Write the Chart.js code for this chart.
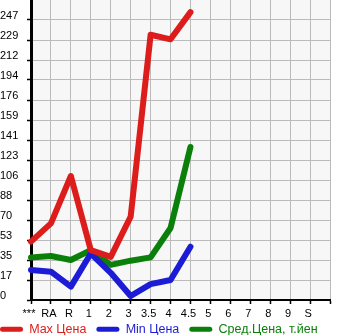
<!DOCTYPE html>
<html>
<head>
<meta charset="utf-8">
<script src="https://cdn.jsdelivr.net/npm/chart.js@4"></script>
<style>
  html, body { margin: 0; padding: 0; background: #fff; }
  #wrap { width: 345px; height: 335px; }
</style>
</head>
<body>
<div id="wrap"><canvas id="priceChart" width="345" height="335"></canvas></div>
<script>
// categories (last one is empty, it only closes the grid)
const categories = ['***', 'RA', 'R', '1', '2', '3', '3,5', '4', '4,5', '5', '6', '7', '8', '9', 'S', ''];
const maxPrice = [51.5, 67.6, 109.4, 44, 38, 73.5, 234, 230, 254];
const minPrice = [26.5, 25, 11.8, 41, 24, 3.5, 14, 17.6, 47];
const avgPrice = [37.6, 38.8, 35.3, 44, 31, 34.7, 37.6, 63.5, 135];
const yTickLabels = ['0', '17', '35', '53', '70', '88', '106', '123', '141', '159', '176', '194', '212', '229', '247'];
const yStep = 17.647;
const seriesNames = ['Max Цена', 'Min Цена', 'Сред.Цена, т.йен'];
const seriesColors = ['rgb(221,28,28)', 'rgb(28,28,214)', 'rgb(10,128,10)'];

// серый фон области графика
const plotBackground = {
    id: 'plotBackground',
    beforeDraw(chart) {
        const a = chart.chartArea;
        const ctx = chart.ctx;
        ctx.save();
        ctx.fillStyle = '#f7f7f7';
        ctx.fillRect(a.left, a.top, a.right - a.left, a.bottom - a.top);
        ctx.restore();
    }
};

// сдвиг легенды к левому краю
const legendShift = {
    id: 'legendShift',
    afterLayout(chart) {
        const lg = chart.legend;
        lg.left -= 10; lg.right -= 10;
        lg.top -= 4; lg.bottom -= 4;
    }
};

const tickFont = { family: 'Liberation Sans', size: 11 };

const ctx = document.getElementById('priceChart').getContext('2d');
const chart = new Chart(ctx, {
    type: 'line',
    data: {
        labels: categories,
        datasets: [maxPrice, minPrice, avgPrice].map(function(values, i) {
            return {
                label: seriesNames[i],
                data: values,
                borderColor: seriesColors[i],
                backgroundColor: seriesColors[i],
                borderWidth: 6,
                borderCapStyle: 'round',
                borderJoinStyle: 'round',
                pointRadius: 0,
                tension: 0,
                fill: false
            };
        })
    },
    options: {
        responsive: false,
        animation: false,
        layout: { padding: { top: 0, right: 0, left: 0, bottom: -14.5 } },
        plugins: {
            tooltip: { enabled: false },
            legend: {
                position: 'bottom',
                align: 'start',
                labels: {
                    boxWidth: 23,
                    boxHeight: 5,
                    padding: 10,
                    font: { family: 'Liberation Sans', size: 12.5 },
                    useBorderRadius: true,
                    generateLabels: function(chart) {
                        return chart.data.datasets.map(function(ds, i) {
                            return {
                                text: ds.label,
                                fillStyle: ds.borderColor,
                                strokeStyle: ds.borderColor,
                                fontColor: ds.borderColor,
                                lineWidth: 0,
                                borderRadius: 2.5,
                                datasetIndex: i
                            };
                        });
                    }
                }
            }
        },
        scales: {
            x: {
                type: 'category',
                offset: false,
                grid: { color: '#bbbbbb', lineWidth: 1, tickColor: '#000', tickLength: 4, tickWidth: 1.5 },
                border: { color: '#000', width: 2 },
                ticks: {
                    autoSkip: false,
                    maxRotation: 0,
                    padding: 3,
                    labelOffset: -2,
                    color: '#000',
                    font: tickFont,
                    callback: function(value, index) { return categories[index]; }
                },
                afterFit: function(scale) {
                    scale.height = 17;
                    scale.paddingLeft = 0;
                    scale.paddingRight = 15;
                }
            },
            y: {
                min: 0,
                max: yStep * 15,
                afterBuildTicks: function(scale) {
                    scale.ticks = yTickLabels.map(function(t, i) { return { value: i * yStep }; });
                },
                grid: { color: '#bbbbbb', lineWidth: 1, tickColor: '#000', tickLength: 4, tickWidth: 1.5 },
                border: { color: '#000', width: 3 },
                ticks: {
                    crossAlign: 'far',
                    labelOffset: -4,
                    color: '#000',
                    font: tickFont,
                    callback: function(value, index) { return yTickLabels[index]; }
                },
                afterFit: function(scale) {
                    scale.width = 31;
                    scale.paddingTop = 0;
                    scale.paddingBottom = 0;
                }
            }
        }
    },
    plugins: [plotBackground, legendShift]
});
</script>
</body>
</html>
